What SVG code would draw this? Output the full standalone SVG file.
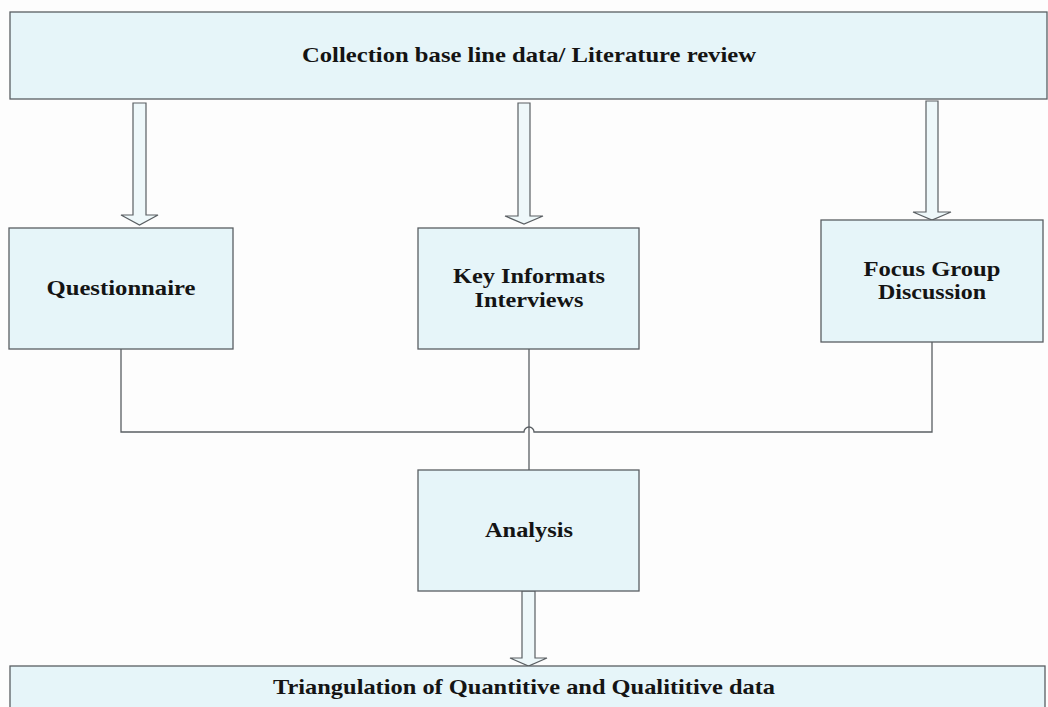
<svg xmlns="http://www.w3.org/2000/svg" width="1048" height="707" viewBox="0 0 1048 707">
<style>
.box{fill:#e6f5f9;stroke:#5a5f63;stroke-width:1.3}
.arr{fill:#eef8fa;stroke:#5a5f63;stroke-width:1.2;stroke-linejoin:miter}
.ln{fill:none;stroke:#5a5f63;stroke-width:1.3}
.t{font-family:"Liberation Serif","Times New Roman",serif;font-weight:bold;fill:#141414;text-anchor:middle}
</style>
<rect width="1048" height="707" fill="#fdfdfd"/>
<g id="connectors">
<path class="arr" d="M133,103 H146 V215 H158 L139.5,225 L121,215 H133 Z"/>
<path class="arr" d="M518,103 H530 V216 H543 L524,224 L505,216 H518 Z"/>
<path class="arr" d="M926,101 H938 V212 H951 L932,220 L913,212 H926 Z"/>
<path class="arr" d="M522,591 H535 V658 H547 L528.5,666 L510,658 H522 Z"/>
<path class="ln" d="M121,349 V432 H524 A5,5 0 0 1 534,432 H932 V342"/>
<path class="ln" d="M529,349 V470"/>
</g>
<g id="n-top">
<rect class="box" x="10" y="12" width="1037" height="87"/>
<text class="t" x="529" y="62" font-size="22" textLength="454" lengthAdjust="spacingAndGlyphs">Collection base line data/ Literature review</text>
</g>
<g id="n-questionnaire">
<rect class="box" x="9" y="228" width="224" height="121"/>
<text class="t" x="121" y="295" font-size="20" textLength="149" lengthAdjust="spacingAndGlyphs">Questionnaire</text>
</g>
<g id="n-key">
<rect class="box" x="418" y="228" width="221" height="121"/>
<text class="t" x="529" y="283" font-size="20" textLength="152" lengthAdjust="spacingAndGlyphs">Key Informats</text>
<text class="t" x="529" y="307" font-size="20" textLength="109" lengthAdjust="spacingAndGlyphs">Interviews</text>
</g>
<g id="n-focus">
<rect class="box" x="821" y="220" width="222" height="122"/>
<text class="t" x="932" y="276" font-size="20" textLength="137" lengthAdjust="spacingAndGlyphs">Focus Group</text>
<text class="t" x="932" y="299" font-size="20" textLength="108" lengthAdjust="spacingAndGlyphs">Discussion</text>
</g>
<g id="n-analysis">
<rect class="box" x="418" y="470" width="221" height="121"/>
<text class="t" x="529" y="537" font-size="20" textLength="88" lengthAdjust="spacingAndGlyphs">Analysis</text>
</g>
<g id="n-triangulation">
<rect class="box" x="10" y="666" width="1035" height="50"/>
<text class="t" x="524" y="694" font-size="22" textLength="502" lengthAdjust="spacingAndGlyphs">Triangulation of Quantitive and Qualititive data</text>
</g>
</svg>
